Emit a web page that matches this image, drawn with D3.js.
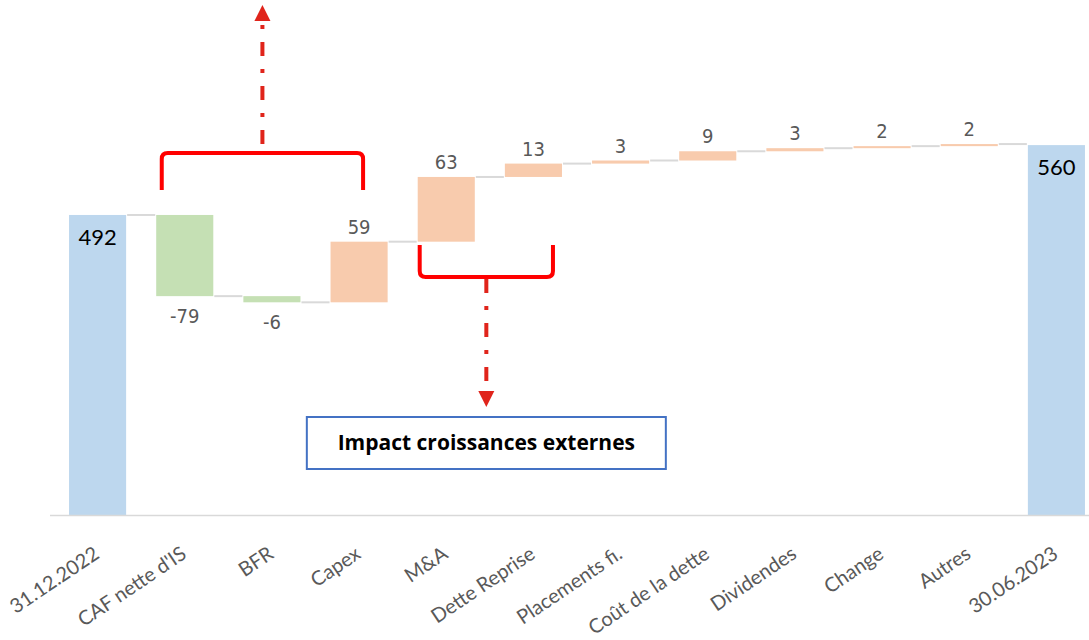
<!DOCTYPE html>
<html>
<head>
<meta charset="utf-8">
<script src="https://cdn.jsdelivr.net/npm/d3@7"></script>
<style>
  html, body { margin: 0; padding: 0; background: #ffffff; }
  svg { display: block; }
</style>
</head>
<body>
<svg id="chart" width="1089" height="640"></svg>
<script>
// Bridge of net debt: opening balance, movements, closing balance
const categories = ["31.12.2022", "CAF nette d'IS", "BFR", "Capex", "M&A", "Dette Reprise",
  "Placements fi.", "Coût de la dette", "Dividendes", "Change", "Autres", "30.06.2023"];
const openingTotal = 492;
const movements = [-79, -6, 59, 63, 13, 3, 9, 3, 2, 2];
const closingTotal = 560;
const yDomain = [200, 600];

const colors = {
  total: "#bdd7ee",
  down: "#c5e0b4",
  up: "#f8cbad",
  connector: "#d9d9d9",
  axis: "#d9d9d9",
  label: "#595959",
  bracket: "#ff0000",
  arrow: "#e0241b",
  box: "#4472c4"
};

// Build the waterfall steps
const steps = [];
let running = openingTotal;
steps.push({ name: categories[0], start: 0, end: openingTotal, value: openingTotal, type: "total" });
movements.forEach((v, i) => {
  const start = running;
  running += v;
  steps.push({ name: categories[i + 1], start, end: running, value: v, type: v < 0 ? "down" : "up" });
});
steps.push({ name: categories[categories.length - 1], start: 0, end: closingTotal, value: closingTotal, type: "total" });

const svg = d3.select("#chart");
const plot = { left: 54, right: 1100, top: 104, bottom: 515 };

const x = d3.scaleBand()
  .domain(categories)
  .range([plot.left, plot.right])
  .paddingInner(0.345)
  .paddingOuter(0.1725);

const y = d3.scaleLinear().domain(yDomain).range([plot.bottom, plot.top]);
const bw = x.bandwidth();
const cx = name => x(name) + bw / 2;

// Bars
svg.append("g").selectAll("rect")
  .data(steps)
  .join("rect")
  .attr("x", d => x(d.name))
  .attr("width", bw)
  .attr("y", d => d.type === "total" ? y(d.end) : y(Math.max(d.start, d.end)))
  .attr("height", d => d.type === "total"
      ? plot.bottom - y(d.end)
      : Math.max(1.5, Math.abs(y(d.start) - y(d.end))))
  .attr("fill", d => colors[d.type]);

// Connectors between consecutive bars
const links = d3.pairs(steps);
svg.append("g").selectAll("line")
  .data(links)
  .join("line")
  .attr("x1", d => x(d[0].name) + bw + 1)
  .attr("x2", d => x(d[1].name) - 1)
  .attr("y1", d => y(d[0].end))
  .attr("y2", d => y(d[0].end))
  .attr("stroke", colors.connector)
  .attr("stroke-width", 2);

// Horizontal axis
const xAxis = d3.axisBottom(x).tickSize(0).tickPadding(0);
const axisG = svg.append("g")
  .attr("transform", `translate(0,${plot.bottom})`)
  .call(xAxis);
axisG.select(".domain").remove();
svg.append("line")
  .attr("x1", 50).attr("x2", 1089)
  .attr("y1", plot.bottom + 0.5).attr("y2", plot.bottom + 0.5)
  .attr("stroke", colors.axis).attr("stroke-width", 1.5);
axisG.selectAll(".tick text")
  .attr("font-family", "Lato, 'Open Sans', sans-serif")
  .attr("font-size", 20)
  .attr("fill", colors.label)
  .attr("text-anchor", "end")
  .attr("dy", 0)
  .attr("y", 0)
  .attr("transform", "translate(3,42) rotate(-34)");

// Value labels
svg.append("g").selectAll("text")
  .data(steps)
  .join("text")
  .attr("x", d => cx(d.name))
  .attr("y", d => {
    if (d.type === "total") return y(d.end) + 30;
    if (d.type === "up") return y(d.end) - 8;
    return y(d.end) + 27;
  })
  .attr("text-anchor", "middle")
  .attr("font-family", d => d.type === "total"
      ? "Lato, 'Open Sans', sans-serif"
      : "'Liberation Sans Narrow', 'DejaVu Sans Condensed', sans-serif")
  .attr("font-size", d => d.type === "total" ? 22 : 20)
  .attr("fill", d => d.type === "total" ? "#000000" : colors.label)
  .text(d => d.value);

// Annotations: brackets, dash-dot arrows and the callout box
const ann = svg.append("g");

function bracket(x0, x1, yEdge, yBar, r) {
  const dir = yBar < yEdge ? -1 : 1; // direction from legs' end toward the bar
  return `M${x0},${yEdge} L${x0},${yBar - dir * r} Q${x0},${yBar} ${x0 + r},${yBar}`
       + ` L${x1 - r},${yBar} Q${x1},${yBar} ${x1},${yBar - dir * r} L${x1},${yEdge}`;
}

// Operating flows bracket (CAF to Capex), arrow pointing up
const tL = cx("CAF nette d'IS") - 23, tR = cx("Capex") + 4;
ann.append("path")
  .attr("d", bracket(tL, tR, 190, 153, 6))
  .attr("fill", "none").attr("stroke", colors.bracket).attr("stroke-width", 4);
const tMid = (tL + tR) / 2;
ann.append("line")
  .attr("x1", tMid).attr("x2", tMid)
  .attr("y1", 144).attr("y2", 22)
  .attr("stroke", colors.arrow).attr("stroke-width", 4)
  .attr("stroke-dasharray", "14,13,4,13");
ann.append("path")
  .attr("d", `M${tMid - 8},21 L${tMid + 8},21 L${tMid},5 Z`)
  .attr("fill", colors.arrow);

// External growth bracket (M&A, Dette Reprise), arrow pointing down
const bL = x("M&A") + 2, bR = x("Dette Reprise") + bw - 9;
ann.append("path")
  .attr("d", bracket(bL, bR, 245, 277, 6))
  .attr("fill", "none").attr("stroke", colors.bracket).attr("stroke-width", 4);
const bMid = (bL + bR) / 2;
ann.append("line")
  .attr("x1", bMid).attr("x2", bMid)
  .attr("y1", 279).attr("y2", 392)
  .attr("stroke", colors.arrow).attr("stroke-width", 4)
  .attr("stroke-dasharray", "14,13,4,13");
ann.append("path")
  .attr("d", `M${bMid - 8},391 L${bMid + 8},391 L${bMid},407 Z`)
  .attr("fill", colors.arrow);

const boxW = 359, boxH = 52;
ann.append("rect")
  .attr("x", bMid - boxW / 2).attr("y", 417)
  .attr("width", boxW).attr("height", boxH)
  .attr("fill", "#ffffff").attr("stroke", colors.box).attr("stroke-width", 2);
ann.append("text")
  .attr("x", bMid).attr("y", 417 + boxH / 2 + 7)
  .attr("text-anchor", "middle")
  .attr("font-family", "'Open Sans', Lato, sans-serif")
  .attr("font-weight", "bold")
  .attr("font-size", 21)
  .attr("fill", "#000000")
  .text("Impact croissances externes");
</script>
</body>
</html>
